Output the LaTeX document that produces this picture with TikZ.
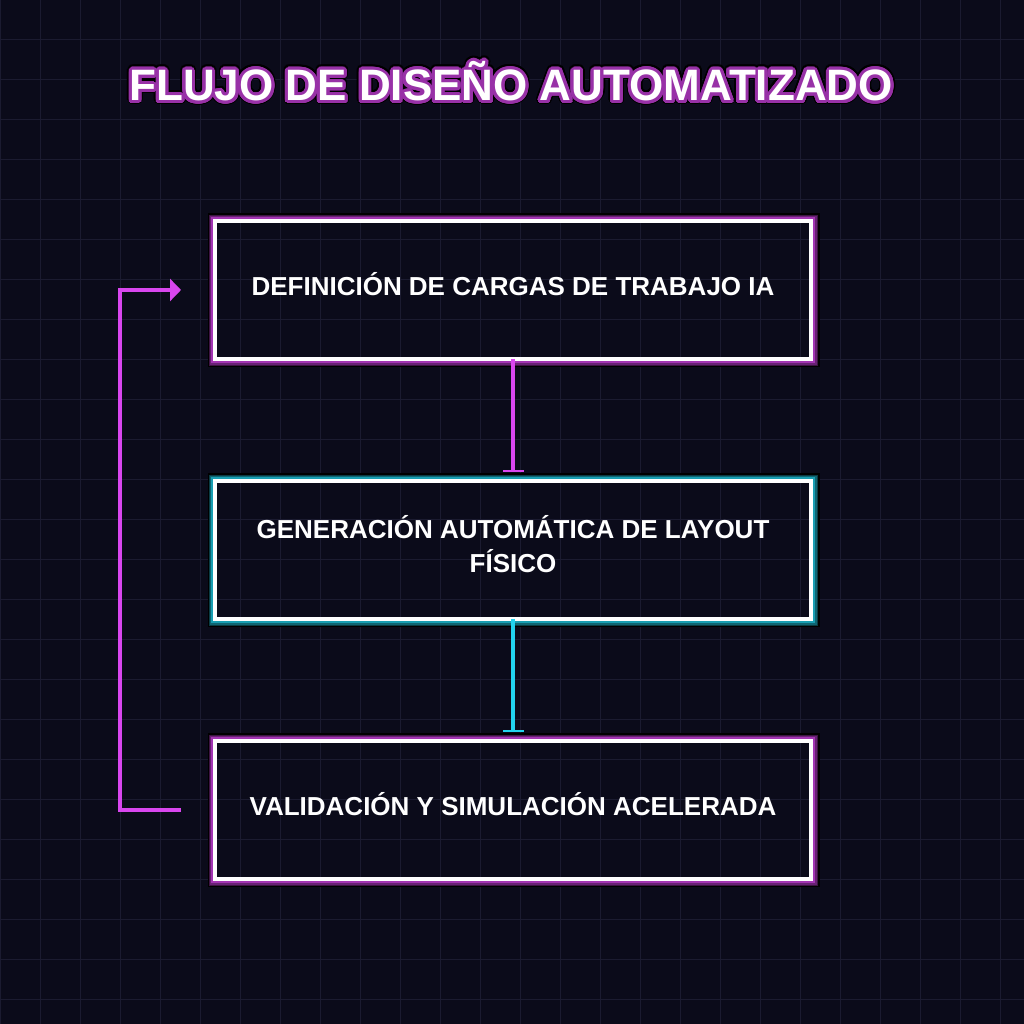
\documentclass[tikz,border=0pt]{standalone}
\usepackage{fontspec}
\setmainfont{Liberation Sans}
\usepackage[copies]{contour}
\usetikzlibrary{arrows.meta, positioning, calc}
\definecolor{nightbg}{RGB}{11, 11, 26}
\definecolor{gridline}{RGB}{27, 27, 48}
\definecolor{neonpink}{RGB}{217, 70, 239}
\definecolor{neoncyan}{RGB}{34, 211, 238}
\contournumber{32}

\begin{document}
\begin{tikzpicture}[x=1pt, y=1pt,
    stagebox/.style={draw=white, line width=4pt, minimum width=596pt, minimum height=138pt,
                     outer sep=0pt, text=white, align=center, text height=16pt, text depth=4pt,
                     font=\bfseries\fontsize{26}{34}\selectfont},
    flowline/.style={line width=4pt, -{Bar[width=21pt, line width=2pt]}, shorten >=9pt},
    titletext/.style={text=white, font=\bfseries\fontsize{44}{50}\selectfont}]

    % Background and grid
    \fill[nightbg] (0,0) rectangle (1024,1024);
    \useasboundingbox (0,0) rectangle (1024,1024);
    \foreach \g in {0,40,...,1000} {
        \draw[gridline, line width=1pt] (\g,0) -- (\g,1024);
        \draw[gridline, line width=1pt] (0,1024-\g) -- (1024,1024-\g);
    }

    % Title
    \node[titletext] (title-shadow) at (511, 941)
        {\contourlength{4.5pt}\contour{black}{FLUJO DE DISEÑO AUTOMATIZADO}};
    \node[titletext] (title) at (511, 941)
        {\contourlength{3pt}\contour{neonpink!70!black}{FLUJO DE DISEÑO AUTOMATIZADO}};

    % Stages
    \node[stagebox] (b1) at (513, 734) {DEFINICIÓN DE CARGAS DE TRABAJO IA};
    \node[stagebox, text height=50pt] (b2) at (513, 474) {GENERACIÓN AUTOMÁTICA DE LAYOUT\\FÍSICO};
    \node[stagebox] (b3) at (513, 214) {VALIDACIÓN Y SIMULACIÓN ACELERADA};

    % Glow around the stages
    \foreach \n/\c in {b1/neonpink, b2/neoncyan, b3/neonpink} {
        \draw[color=black, line width=2pt]
            ([shift={(-6.5,6.5)}]\n.north west) rectangle ([shift={(7.5,-7.5)}]\n.south east);
        \draw[color=\c!28!black, line width=1.5pt]
            ([shift={(-5.5,5.5)}]\n.north west) rectangle ([shift={(6,-6)}]\n.south east);
        \draw[color=\c!48!black, line width=1.5pt]
            ([shift={(-4.5,4.5)}]\n.north west) rectangle ([shift={(4.8,-4.8)}]\n.south east);
        \draw[color=\c!75!black, line width=2pt]
            ([shift={(-3,3)}]\n.north west) rectangle ([shift={(3,-3)}]\n.south east);
    }

    % Arrows
    \draw[flowline, neonpink] (b1) -- (b2);
    \draw[flowline, neoncyan] (b2) -- (b3);

    % Feedback loop
    \draw[neonpink, line width=4pt, -{Triangle[length=11pt, width=22pt]}]
        ([xshift=-34pt]b3.west) -- ++(-61pt,0) |- ([xshift=-34pt]b1.west);
\end{tikzpicture}
\end{document}
